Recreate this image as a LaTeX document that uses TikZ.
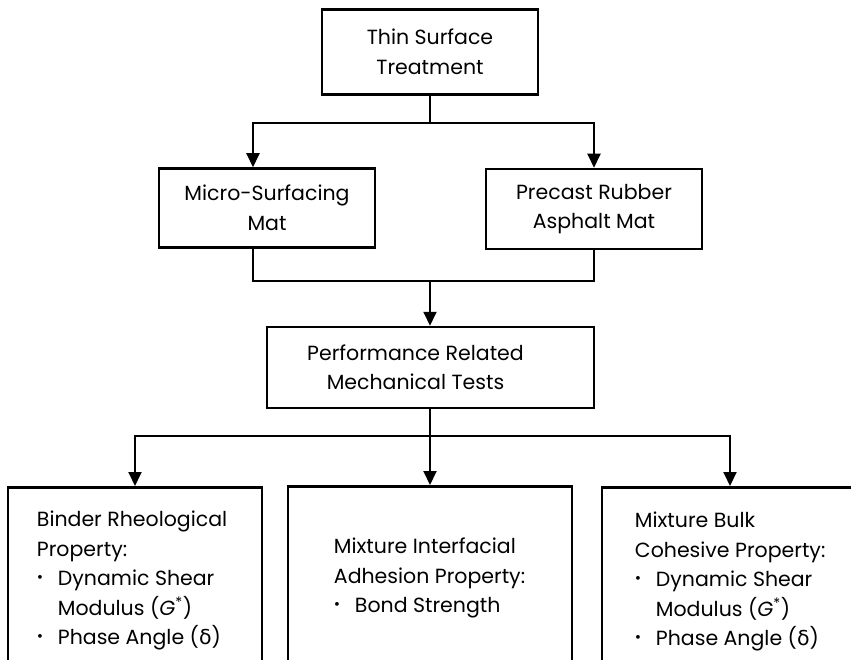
\documentclass[tikz,border=0pt]{standalone}
\usepackage{fontspec}
\setmainfont{Poppins}
\newfontfamily\grkfont{DejaVu Sans}
\usetikzlibrary{arrows.meta,positioning}
\newcommand{\bul}{\makebox[21pt][l]{\raisebox{.18em}{\scalebox{.75}{\textbullet}}}}
\newcommand{\ind}{\hspace*{21pt}}
\newcommand{\dlt}{{\grkfont δ}}

\begin{document}
\begin{tikzpicture}[x=1pt,y=-1pt,>={Triangle[width=13pt,length=14pt]},
  box/.style={draw,line width=2.5pt,inner sep=0pt,align=center,font=\fontsize{20.5}{29.5}\selectfont},
  link/.style={line width=2pt},
  txt/.style={inner sep=0pt,align=left,anchor=north west,font=\fontsize{20.5}{29.5}\selectfont}]
\useasboundingbox (0,0) rectangle (851,660);
\clip (0,0) rectangle (851,660);

\node[box,minimum width=216pt,minimum height=85pt] (thin) at (430,52) {Thin Surface\\Treatment};
\node[box,minimum width=216pt,minimum height=79pt] (micro) at (267,208) {Micro-Surfacing\\Mat};
\node[box,minimum width=216pt,minimum height=80pt] (precast) at (594,209) {Precast Rubber\\Asphalt Mat};
\node[box,minimum width=327pt,minimum height=81pt] (perf) at (430.5,367.5) {};
\node[txt,anchor=center,align=center] (perftxt) at ([xshift=-15pt]perf.center) {Performance Related\\Mechanical Tests};

% property boxes, cut by the lower edge
\node[box,minimum width=254pt,minimum height=235pt,anchor=north] (binder) at (135,486) {};
\node[box,minimum width=284pt,minimum height=235pt,anchor=north] (adhesion) at (430,485) {};
\node[box,minimum width=256pt,minimum height=235pt,anchor=north] (cohesive) at (730,486) {};

\node[txt] (bindertxt) at ([xshift=30pt,yshift=-25pt]binder.north west)
  {Binder Rheological\\Property:\\\bul Dynamic Shear\\\ind Modulus ({\itshape G}\textsuperscript{*})\\\bul Phase Angle (\dlt)};
\node[txt] (adhesiontxt) at ([xshift=47pt,yshift=-53pt]adhesion.north west)
  {Mixture Interfacial\\Adhesion Property:\\\bul Bond Strength};
\node[txt] (cohesivetxt) at ([xshift=34pt,yshift=-26pt]cohesive.north west)
  {Mixture Bulk\\Cohesive Property:\\\bul Dynamic Shear\\\ind Modulus ({\itshape G}\textsuperscript{*})\\\bul Phase Angle (\dlt)};

\coordinate (split1) at (430,123);
\coordinate (join1) at (430,281);
\coordinate (split2) at (430,436);
\draw[link] (thin) -- (split1);
\draw[link,->] (split1) -| ([xshift=-14pt]micro.north);
\draw[link,->] (split1) -| (precast.north);
\draw[link] ([xshift=-14pt]micro.south) |- (join1);
\draw[link] (precast.south) |- (join1);
\draw[link,->] (join1) -- (join1 |- perf.north);
\draw[link] (split2 |- perf.south) -- (split2);
\draw[link,->] (split2) -- (adhesion.north);
\draw[link,->] (split2) -| (binder.north);
\draw[link,->] (split2) -| (cohesive.north);
\end{tikzpicture}
\end{document}
